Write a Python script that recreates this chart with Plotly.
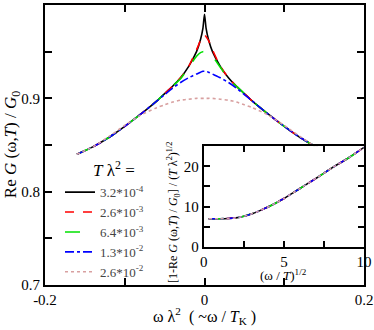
import plotly.graph_objects as go

# ---- data ----
omega = [-0.16, -0.14, -0.12, -0.10, -0.08, -0.06, -0.05, -0.04, -0.03, -0.02, -0.01, -0.005, -0.002, 0.0,
         0.002, 0.005, 0.01, 0.02, 0.03, 0.04, 0.05, 0.06, 0.08, 0.10, 0.12, 0.14, 0.16]
re_black = [0.840, 0.848, 0.858, 0.870, 0.883, 0.897, 0.905, 0.913, 0.922, 0.934, 0.950, 0.963, 0.975, 0.990,
            0.975, 0.963, 0.950, 0.934, 0.922, 0.913, 0.905, 0.897, 0.883, 0.870, 0.858, 0.848, 0.840]
re_red = [0.840, 0.848, 0.858, 0.870, 0.883, 0.897, 0.905, 0.913, 0.922, 0.934, 0.952, 0.962, 0.966, 0.968,
          0.966, 0.962, 0.952, 0.934, 0.922, 0.913, 0.905, 0.897, 0.883, 0.870, 0.858, 0.848, 0.840]
re_green = [0.840, 0.848, 0.858, 0.870, 0.883, 0.897, 0.905, 0.913, 0.921, 0.933, 0.945, 0.949, 0.950, 0.950,
            0.950, 0.949, 0.945, 0.933, 0.921, 0.913, 0.905, 0.897, 0.883, 0.870, 0.858, 0.848, 0.840]
re_blue = [0.840, 0.848, 0.858, 0.870, 0.883, 0.897, 0.904, 0.911, 0.917, 0.922, 0.926, 0.928, 0.929, 0.929,
           0.929, 0.928, 0.926, 0.922, 0.917, 0.911, 0.904, 0.897, 0.883, 0.870, 0.858, 0.848, 0.840]
re_pink = [0.840, 0.848, 0.859, 0.871, 0.882, 0.890, 0.893, 0.896, 0.898, 0.899, 0.900, 0.900, 0.900, 0.900,
           0.900, 0.900, 0.900, 0.899, 0.898, 0.896, 0.893, 0.890, 0.882, 0.871, 0.859, 0.848, 0.840]

legend_labels = ["3.2*10<sup>-4</sup>", "2.6*10<sup>-3</sup>", "6.4*10<sup>-3</sup>",
                 "1.3*10<sup>-2</sup>", "2.6*10<sup>-2</sup>"]

inset_x = [0.3, 1.0, 1.5, 2.0, 2.5, 3.0, 3.5, 4.0, 4.5, 5.0, 6.0, 7.0, 8.0, 9.0, 10.0]
inset_y = [7.0, 7.0, 7.05, 7.2, 7.6, 8.2, 9.0, 9.9, 10.9, 12.0, 14.5, 17.0, 19.6, 22.0, 24.7]

main_series = [re_black, re_red, re_green, re_blue, re_pink]
colors = ["#000000", "#ff0000", "#00e000", "#0000ff", "#d8a0a0"]
dashes = ["solid", "dash", "longdash", "dashdot", "dot"]

SERIF = "Liberation Serif"

fig = go.Figure()
for ys, c, d, lab in zip(main_series, colors, dashes, legend_labels):
    fig.add_trace(go.Scatter(x=omega, y=ys, mode="lines", name=lab,
                             line=dict(color=c, dash=d, width=1.6, shape="spline", smoothing=0.6),
                             xaxis="x", yaxis="y"))
for c, d in zip(colors, dashes):
    fig.add_trace(go.Scatter(x=inset_x, y=inset_y, mode="lines", showlegend=False,
                             line=dict(color=c, dash=d, width=1.6, shape="spline", smoothing=0.6),
                             xaxis="x2", yaxis="y2"))

axis_common = dict(showline=True, linecolor="black", linewidth=2, mirror="allticks", automargin=False,
                   ticks="inside", tickcolor="black", tickwidth=1.5, showgrid=False, zeroline=False,
                   tickfont=dict(family=SERIF, size=15, color="black"))

fig.update_layout(
    width=374, height=330,
    margin=dict(l=45, r=10, t=5, b=45, autoexpand=False),
    paper_bgcolor="white", plot_bgcolor="white",
    font=dict(family=SERIF, color="black"),
    xaxis=dict(range=[-0.2, 0.2], domain=[0, 1], tickvals=[-0.2, 0, 0.2], ticktext=["-0.2", "0", "0.2"],
               ticklen=7, minor=dict(tickvals=[-0.1, 0.1], ticklen=7, ticks="inside", tickcolor="black"),
               **axis_common),
    yaxis=dict(range=[0.7, 1.0], domain=[0, 1], tickvals=[0.7, 0.8, 0.9, 1.0], ticktext=["0.7", "0.8", "0.9", "1"],
               ticklen=7, minor=dict(tickvals=[0.75, 0.85, 0.95], ticklen=7, ticks="inside", tickcolor="black"),
               **axis_common),
    xaxis2=dict(range=[0, 10], domain=[0.498, 1], anchor="y2", tickvals=[0, 5, 10],
                ticklen=6, minor=dict(tickvals=[2.5, 7.5], ticklen=6, ticks="inside", tickcolor="black"),
                **axis_common),
    yaxis2=dict(range=[0, 25], domain=[0.136, 0.496], anchor="x2", tickvals=[0, 10, 20],
                ticklen=6, minor=dict(tickvals=[5, 15, 25], ticklen=6, ticks="inside", tickcolor="black"),
                **axis_common),
    legend=dict(x=0.047, y=0.385, xanchor="left", yanchor="top", bgcolor="rgba(0,0,0,0)",
                font=dict(family=SERIF, size=13, color="#444"), tracegroupgap=0),
    showlegend=True,
)

# white background of the inset, hiding the main curves behind it
fig.add_shape(type="rect", xref="x2 domain", yref="y2 domain", x0=0, x1=1, y0=0, y1=1,
              fillcolor="white", line=dict(width=0), layer="below")

# legend heading
fig.add_annotation(text="<i>T</i> λ<sup>2</sup> =", xref="paper", yref="paper",
                   x=(114 - 45) / 319, y=(285 - 169) / 280, showarrow=False,
                   font=dict(family=SERIF, size=17), xanchor="center", yanchor="middle")
fig.add_annotation(text="Re <i>G</i> (ω,<i>T</i>) / <i>G</i><sub>0</sub>", xref="paper", yref="paper",
                   x=-0.103, y=0.5, textangle=-90, showarrow=False, font=dict(family=SERIF, size=17),
                   xanchor="center", yanchor="middle")
fig.add_annotation(text="ω λ<sup>2</sup>  ( ~ω / <i>T</i><sub>K</sub> )", xref="paper", yref="paper",
                   x=0.5, y=-0.11, showarrow=False, font=dict(family=SERIF, size=16),
                   xanchor="center", yanchor="middle")
fig.add_annotation(text="(ω / <i>T</i>)<sup>1/2</sup>", xref="x2 domain", yref="paper",
                   x=0.5, y=0.035, showarrow=False, font=dict(family=SERIF, size=13),
                   xanchor="center", yanchor="middle")
fig.add_annotation(text="[1-Re <i>G</i> (ω,<i>T</i>) / <i>G</i><sub>0</sub>] / (<i>T</i> λ<sup>2</sup>)<sup>1/2</sup>",
                   xref="paper", yref="paper", x=(173 - 45) / 319, y=(285 - 212) / 280, textangle=-90,
                   showarrow=False, font=dict(family=SERIF, size=12), xanchor="center", yanchor="middle")

fig.write_html("out.html", config={"displayModeBar": False},
               post_script="document.body.style.margin='0';document.body.style.padding='0';")
